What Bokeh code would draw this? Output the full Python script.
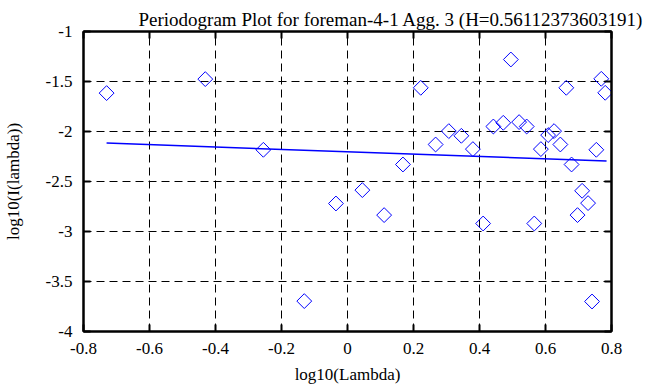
from bokeh.plotting import figure
from bokeh.models import Range1d, FixedTicker, LinearAxis, Title
from bokeh.embed import file_html
from bokeh.resources import INLINE

# Data (log10 lambda, log10 I(lambda))
log_lambda = [-0.730, -0.431, -0.255, -0.131, -0.035, 0.045, 0.111, 0.168, 0.222, 0.267,
              0.307, 0.345, 0.380, 0.411, 0.442, 0.472, 0.495, 0.520, 0.543, 0.566,
              0.586, 0.608, 0.626, 0.645, 0.663, 0.679, 0.697, 0.711, 0.729, 0.741,
              0.754, 0.769, 0.781]
log_I = [-1.616, -1.476, -2.183, -3.696, -2.720, -2.586, -2.836, -2.330, -1.563, -2.130,
         -1.996, -2.043, -2.176, -2.920, -1.950, -1.913, -1.280, -1.906, -1.950, -2.920,
         -2.176, -2.036, -1.996, -2.130, -1.563, -2.330, -2.836, -2.593, -2.716, -3.700,
         -2.183, -1.473, -1.613]

# Fitted regression line endpoints
fit_x = [-0.730, 0.785]
fit_y = [-2.116, -2.296]

x_ticks = [-0.8, -0.6, -0.4, -0.2, 0, 0.2, 0.4, 0.6, 0.8]
x_tick_labels = ["-0.8", "-0.6", "-0.4", "-0.2", "0", "0.2", "0.4", "0.6", "0.8"]
y_ticks = [-4, -3.5, -3, -2.5, -2, -1.5, -1]
y_tick_labels = ["-4", "-3.5", "-3", "-2.5", "-2", "-1.5", "-1"]

title_text = "Periodogram Plot for foreman-4-1 Agg. 3 (H=0.56112373603191)"
FONT = "'Liberation Serif', serif"

p = figure(width=645, height=379, frame_width=528, frame_height=300,
           x_range=Range1d(-0.8, 0.8), y_range=Range1d(-4, -1),
           output_backend="svg", toolbar_location=None,
           min_border_left=82, min_border_right=35, min_border_top=31, min_border_bottom=48)

p.title = Title(text=title_text, text_font=FONT, text_font_size="19px",
                text_font_style="normal", text_color="black",
                align="left", offset=55, standoff=3)

p.background_fill_color = "white"
p.border_fill_color = "white"
p.outline_line_color = "black"
p.outline_line_width = 2

# grid
for g, ticks in ((p.xgrid, x_ticks), (p.ygrid, y_ticks)):
    g.ticker = FixedTicker(ticks=ticks)
    g.grid_line_color = "black"
    g.grid_line_dash = "8 5"
    g.grid_line_width = 1

def style_axis(ax, ticks, labels, show_labels=True):
    ax.ticker = FixedTicker(ticks=ticks)
    if show_labels:
        ax.major_label_overrides = {t: l for t, l in zip(ticks, labels)}
    else:
        ax.major_label_overrides = {t: "" for t in ticks}
    ax.axis_line_color = "black"
    ax.axis_line_width = 2
    ax.major_tick_in = 7
    ax.major_tick_out = 0
    ax.major_tick_line_width = 2
    ax.minor_tick_line_color = None
    ax.major_label_text_font = FONT
    ax.major_label_text_font_size = "17px"
    ax.major_label_text_font_style = "normal"
    ax.major_label_text_color = "black"
    ax.major_label_standoff = 9
    ax.axis_label_text_font = FONT
    ax.axis_label_text_font_size = "17px"
    ax.axis_label_text_font_style = "normal"
    ax.axis_label_text_color = "black"

xa = p.xaxis[0]
style_axis(xa, x_ticks, x_tick_labels)
xa.major_label_standoff = 11
xa.axis_label = "log10(Lambda)"
xa.axis_label_standoff = 8
ya = p.yaxis[0]
style_axis(ya, y_ticks, y_tick_labels)
ya.major_label_standoff = 11
ya.axis_label = "log10(I(lambda))"
ya.axis_label_standoff = 20

ra = LinearAxis()
style_axis(ra, y_ticks, y_tick_labels, show_labels=False)
p.add_layout(ra, "right")
ta = LinearAxis()
style_axis(ta, x_ticks, x_tick_labels, show_labels=False)
p.add_layout(ta, "above")

p.scatter(log_lambda, log_I, marker="square", angle=0.7853981634, size=10.5,
          fill_color=None, line_color="#0000ff", line_width=1)
p.line(fit_x, fit_y, line_color="#0000ff", line_width=1.5)

open("out.html", "w").write(file_html(p, INLINE))
